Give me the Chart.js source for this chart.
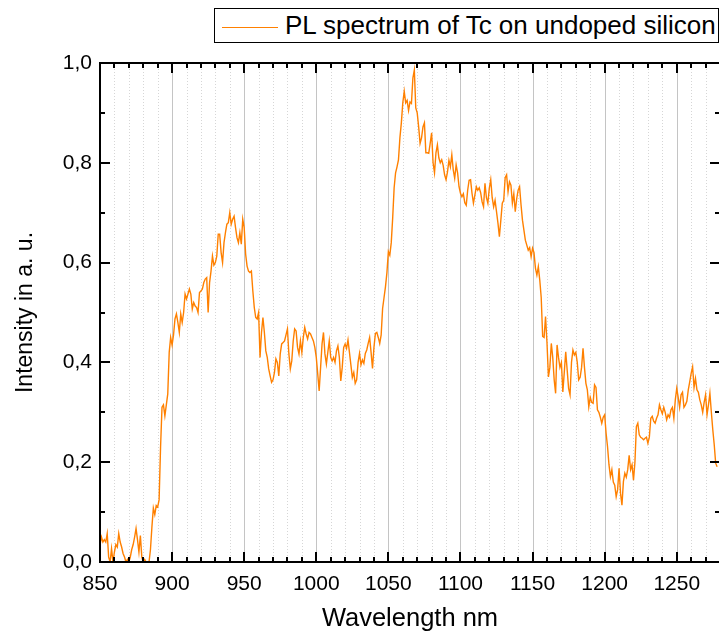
<!DOCTYPE html>
<html>
<head>
<meta charset="utf-8">
<title>PL spectrum</title>
<script src="https://cdn.jsdelivr.net/npm/chart.js@4.4.1/dist/chart.umd.min.js"></script>
<style>
  html, body { margin: 0; padding: 0; background: #fff; overflow: hidden; }
  #wrap { position: relative; width: 719px; height: 637px; overflow: hidden; }
  #spectrum { position: absolute; left: 0; top: 0; }
  .legend {
    position: absolute; left: 214px; top: 8px; width: 505px; height: 35px;
    border: 1px solid #000; box-sizing: border-box; background: #fff;
    font-family: "Liberation Sans", Arial, sans-serif;
    font-size: 26px; line-height: 33px; white-space: nowrap; color: #000;
  }
  .legend i {
    display: inline-block; width: 56px; height: 0; border-top: 1px solid #ff8000;
    vertical-align: middle; margin: 0 7px 0 7px;
  }
</style>
</head>
<body>
<div id="wrap">
  <canvas id="spectrum" width="722" height="637"></canvas>
  <div class="legend"><i></i>PL spectrum of Tc on undoped silicon</div>
</div>
<script>
const FONT = '"Liberation Sans", Arial, sans-serif';

// wavelength grid of the spectrometer, nm
const wlStart = 850;
const wlStep = 1;

// PL intensity, one value per nm from 850 nm on
const intensity = [
  // 850 - 899
  0.035, 0.050, 0.040, 0.045, 0.040, 0.057, 0.010, 0.000, 0.027, 0.000,
  0.020, 0.035, 0.030, 0.057, 0.040, 0.030, 0.017, 0.010, 0.000, 0.005,
  0.000, 0.010, 0.025, 0.035, 0.050, 0.067, 0.045, 0.020, 0.053, 0.010,
  0.000, 0.005, 0.000, 0.000, 0.000, 0.025, 0.070, 0.108, 0.095, 0.113,
  0.110, 0.125, 0.230, 0.310, 0.315, 0.293, 0.315, 0.337, 0.420, 0.450,
  // 900 - 949
  0.435, 0.455, 0.487, 0.497, 0.480, 0.460, 0.497, 0.480, 0.500, 0.537,
  0.527, 0.537, 0.547, 0.537, 0.507, 0.520, 0.513, 0.510, 0.500, 0.540,
  0.543, 0.547, 0.560, 0.567, 0.570, 0.500, 0.560, 0.583, 0.613, 0.595,
  0.600, 0.613, 0.657, 0.657, 0.620, 0.600, 0.640, 0.660, 0.677, 0.680,
  0.700, 0.677, 0.687, 0.693, 0.670, 0.650, 0.640, 0.660, 0.637, 0.687,
  // 950 - 999
  0.670, 0.617, 0.593, 0.583, 0.580, 0.583, 0.543, 0.510, 0.490, 0.487,
  0.500, 0.410, 0.460, 0.490, 0.460, 0.423, 0.410, 0.387, 0.373, 0.360,
  0.365, 0.380, 0.407, 0.400, 0.373, 0.417, 0.437, 0.440, 0.443, 0.455,
  0.467, 0.417, 0.387, 0.403, 0.443, 0.467, 0.463, 0.430, 0.417, 0.443,
  0.420, 0.450, 0.470, 0.457, 0.447, 0.460, 0.457, 0.450, 0.443, 0.430,
  // 1000 - 1049
  0.410, 0.377, 0.343, 0.390, 0.437, 0.460, 0.417, 0.397, 0.420, 0.443,
  0.410, 0.403, 0.410, 0.400, 0.423, 0.433, 0.410, 0.363, 0.390, 0.430,
  0.437, 0.428, 0.445, 0.420, 0.395, 0.370, 0.380, 0.358, 0.365, 0.400,
  0.418, 0.395, 0.405, 0.398, 0.418, 0.425, 0.438, 0.450, 0.420, 0.388,
  0.430, 0.458, 0.460, 0.450, 0.438, 0.455, 0.508, 0.530, 0.552, 0.580,
  // 1050 - 1099
  0.622, 0.615, 0.640, 0.690, 0.750, 0.780, 0.792, 0.806, 0.850, 0.880,
  0.920, 0.943, 0.920, 0.925, 0.905, 0.922, 0.919, 0.970, 0.986, 0.910,
  0.900, 0.872, 0.839, 0.850, 0.872, 0.880, 0.820, 0.820, 0.819, 0.839,
  0.860, 0.800, 0.780, 0.820, 0.836, 0.810, 0.800, 0.806, 0.795, 0.776,
  0.766, 0.782, 0.805, 0.792, 0.816, 0.786, 0.769, 0.796, 0.780, 0.752,
  // 1100 - 1149
  0.739, 0.732, 0.738, 0.720, 0.715, 0.745, 0.765, 0.766, 0.739, 0.719,
  0.735, 0.752, 0.745, 0.750, 0.740, 0.722, 0.712, 0.759, 0.730, 0.719,
  0.749, 0.766, 0.730, 0.712, 0.725, 0.702, 0.679, 0.652, 0.685, 0.719,
  0.725, 0.770, 0.776, 0.742, 0.762, 0.755, 0.719, 0.738, 0.702, 0.728,
  0.745, 0.752, 0.716, 0.685, 0.665, 0.645, 0.635, 0.625, 0.630, 0.612,
  // 1150 - 1199
  0.629, 0.620, 0.589, 0.575, 0.592, 0.565, 0.530, 0.452, 0.450, 0.492,
  0.440, 0.371, 0.390, 0.438, 0.410, 0.365, 0.338, 0.435, 0.410, 0.390,
  0.400, 0.341, 0.380, 0.421, 0.385, 0.348, 0.335, 0.400, 0.425, 0.415,
  0.420, 0.400, 0.365, 0.370, 0.390, 0.428, 0.390, 0.358, 0.345, 0.311,
  0.330, 0.320, 0.318, 0.355, 0.350, 0.305, 0.300, 0.290, 0.278, 0.290,
  // 1200 - 1249
  0.295, 0.258, 0.231, 0.195, 0.171, 0.185, 0.160, 0.154, 0.131, 0.145,
  0.188, 0.138, 0.114, 0.161, 0.178, 0.170, 0.185, 0.214, 0.185, 0.195,
  0.164, 0.200, 0.271, 0.278, 0.255, 0.250, 0.248, 0.245, 0.248, 0.250,
  0.238, 0.250, 0.288, 0.292, 0.282, 0.278, 0.288, 0.295, 0.315, 0.305,
  0.297, 0.310, 0.300, 0.285, 0.295, 0.290, 0.305, 0.310, 0.288, 0.325,
  // 1250 - 1278
  0.348, 0.330, 0.310, 0.335, 0.340, 0.310, 0.315, 0.322, 0.345, 0.361,
  0.378, 0.391, 0.350, 0.368, 0.345, 0.340, 0.325, 0.315, 0.300, 0.320,
  0.335, 0.295, 0.315, 0.338, 0.300, 0.265, 0.235, 0.198, 0.191
];

const wavelength = intensity.map((_, i) => wlStart + i * wlStep);

// axis ranges and tick spacing
const xRange = [850, 1280];
const xMajor = 50, xMinor = 10;
const yRange = [0, 1];
const yMajor = 0.2, yMinor = 0.1;

const lineColor = '#ff8000';

/**
 * Origin-like frame: vertical grid, closed box, ticks pointing inward on all sides
 */
const frame = {
  id: 'frame',
  beforeDatasetsDraw(chart) {
    const { ctx, chartArea: a, scales: { x } } = chart;
    ctx.save();
    ctx.lineWidth = 1;
    for (let v = xRange[0] + xMinor; v < xRange[1]; v += xMinor) {
      const px = Math.round(x.getPixelForValue(v)) + 0.5;
      if (v % xMajor === 0) {
        ctx.strokeStyle = '#c4c4c4';
        ctx.setLineDash([]);
      } else {
        ctx.strokeStyle = '#d6d6d6';
        ctx.setLineDash([1, 2]);
      }
      ctx.beginPath();
      ctx.moveTo(px, a.top);
      ctx.lineTo(px, a.bottom);
      ctx.stroke();
    }
    ctx.restore();
  },
  afterDatasetsDraw(chart) {
    const { ctx, chartArea: a, scales: { x, y } } = chart;
    ctx.save();
    ctx.strokeStyle = '#000';
    ctx.lineWidth = 2;
    ctx.setLineDash([]);

    ctx.beginPath();
    // x ticks, bottom and top
    for (let v = xRange[0]; v <= xRange[1]; v += xMinor) {
      const px = Math.round(x.getPixelForValue(v));
      const len = v % xMajor === 0 ? 10 : 5;
      ctx.moveTo(px, a.bottom);
      ctx.lineTo(px, a.bottom - len);
      ctx.moveTo(px, a.top);
      ctx.lineTo(px, a.top + len);
    }
    // y ticks, left and right
    for (let i = 0; i <= Math.round((yRange[1] - yRange[0]) / yMinor); i++) {
      const v = yRange[0] + i * yMinor;
      const py = Math.round(y.getPixelForValue(v));
      const len = i % 2 === 0 ? 10 : 5;
      ctx.moveTo(a.left, py);
      ctx.lineTo(a.left + len, py);
      ctx.moveTo(a.right, py);
      ctx.lineTo(a.right - len, py);
    }
    ctx.stroke();

    ctx.strokeRect(a.left, a.top, a.right - a.left, a.bottom - a.top);
    ctx.restore();
  }
};

const ctx = document.getElementById('spectrum');

const spectrumChart = new Chart(ctx, {
  type: 'line',
  data: {
    datasets: [{
      label: 'PL spectrum of Tc on undoped silicon',
      data: wavelength.map((w, i) => ({ x: w, y: intensity[i] })),
      borderColor: lineColor,
      backgroundColor: lineColor,
      borderWidth: 1.4,
      pointRadius: 0,
      tension: 0,
      fill: false
    }]
  },
  options: {
    responsive: false,
    animation: false,
    devicePixelRatio: 1,
    layout: { padding: { left: 0, right: 2, top: 63, bottom: 0 } },
    plugins: {
      legend: { display: false },
      tooltip: { enabled: false }
    },
    scales: {
      x: {
        type: 'linear',
        min: xRange[0],
        max: xRange[1],
        grid: { display: false, drawTicks: false },
        border: { display: false },
        ticks: {
          stepSize: xMajor,
          includeBounds: false,
          maxRotation: 0,
          padding: 10,
          color: '#000',
          font: { family: FONT, size: 21 },
          callback: v => String(v)
        },
        title: {
          display: true,
          text: 'Wavelength nm',
          color: '#000',
          font: { family: FONT, size: 25.5 },
          padding: { top: 0, bottom: 3 }
        },
        afterFit(scale) { scale.height = 75; }
      },
      y: {
        min: yRange[0],
        max: yRange[1],
        grid: { display: false, drawTicks: false },
        border: { display: false },
        ticks: {
          stepSize: yMajor,
          padding: 8,
          color: '#000',
          font: { family: FONT, size: 21 },
          callback: v => v.toFixed(1).replace('.', ',')
        },
        title: {
          display: true,
          text: 'Intensity in a. u.',
          color: '#000',
          font: { family: FONT, size: 23 },
          padding: { top: 12, bottom: 0 }
        },
        afterFit(scale) { scale.width = 100; }
      }
    }
  },
  plugins: [frame]
});
</script>
</body>
</html>
